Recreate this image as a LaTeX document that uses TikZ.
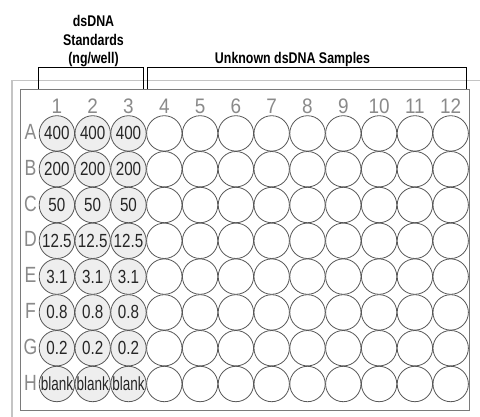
\documentclass[tikz,border=0pt]{standalone}
\usepackage{fontspec}
\setmainfont{Liberation Sans}
\newfontfamily\condfont[FakeStretch=0.8]{Liberation Sans}
\newfontfamily\narrowfont[FakeStretch=0.71]{Liberation Sans}
\newfontfamily\numfont[FakeStretch=0.9]{Liberation Sans}
\definecolor{wellline}{HTML}{585858}
\definecolor{wellfill}{HTML}{EEEEEE}
\definecolor{labelgray}{HTML}{8A8A8A}
\definecolor{outergray}{HTML}{C4C4C4}
\definecolor{innergray}{HTML}{7A7A7A}
\tikzset{
  well/.style={circle, draw=wellline, line width=0.8pt, fill=white, minimum size=35.4pt, inner sep=0pt},
  stdwell/.style={well, fill=wellfill, text=black!85, font=\condfont\fontsize{19}{21}\selectfont},
  blankwell/.style={stdwell, font=\narrowfont\fontsize{19}{21}\selectfont},
  collabel/.style={anchor=base, text=labelgray, font=\numfont\fontsize{21}{24}\selectfont, inner sep=0pt},
  rowlabel/.style={anchor=base, text=labelgray, font=\condfont\fontsize{22}{24}\selectfont, inner sep=0pt},
  title/.style={anchor=base, font=\condfont\bfseries\fontsize{15.5}{18}\selectfont, inner sep=0pt},
  bracket/.style={draw=black, line width=0.8pt}
}
\begin{document}
\begin{tikzpicture}[x=1pt,y=-1pt]
\useasboundingbox (0,0) rectangle (480,416);
\fill[white] (0,0) rectangle (480,416);
% plate outlines
\coordinate (ob) at (12,420);
\coordinate (otl) at (12,80.5);
\coordinate (otr) at (484,80.5);
\draw[outergray, line width=1.2pt] (ob) -- (otl) -- (otr);
\coordinate (itl) at (20,89);
\coordinate (ibr) at (469,410.5);
\draw[innergray, line width=1pt] (itl) rectangle (ibr);
% titles
\node[title] (t1) at (93.5,26) {dsDNA};
\node[title] (t2) at (93.5,45) {Standards};
\node[title] (t3) at (93.5,63.5) {(ng/well)};
\node[title] (t4) at (292.5,63.5) {Unknown dsDNA Samples};
% brackets
\coordinate (sa) at (38,89);
\coordinate (sb) at (38,67.5);
\coordinate (sc) at (143.3,67.5);
\coordinate (sd) at (143.3,89);
\draw[bracket] (sa) -- (sb) -- (sc) -- (sd);
\coordinate (ua) at (147.7,89);
\coordinate (ub) at (147.7,67.5);
\coordinate (uc) at (466,67.5);
\coordinate (ud) at (466,89);
\draw[bracket] (ua) -- (ub) -- (uc) -- (ud);
% column labels
\foreach \c in {1,...,12} {
  \node[collabel] (c\c) at ({56.9+35.8*(\c-1)},113.5) {\c};
}
% row labels
\foreach \L [count=\r] in {A,B,C,D,E,F,G,H} {
  \node[rowlabel] (r\L) at (30.5,{133.4+35.8*(\r-1)+6}) {\L};
}
% wells
\foreach \v [count=\r] in {400,200,50,12.5,3.1,0.8,0.2} {
  \foreach \c in {1,2,3} {
    \node[stdwell] (w\r-\c) at ({56.9+35.8*(\c-1)},{133.4+35.8*(\r-1)}) {\v};
  }
}
\foreach \c in {1,2,3} {
  \node[blankwell] (w8-\c) at ({56.9+35.8*(\c-1)},{133.4+35.8*7}) {blank};
}
\foreach \r in {1,...,8} {
  \foreach \c in {4,...,12} {
    \node[well] (w\r-\c) at ({56.9+35.8*(\c-1)},{133.4+35.8*(\r-1)}) {};
  }
}
\end{tikzpicture}
\end{document}
